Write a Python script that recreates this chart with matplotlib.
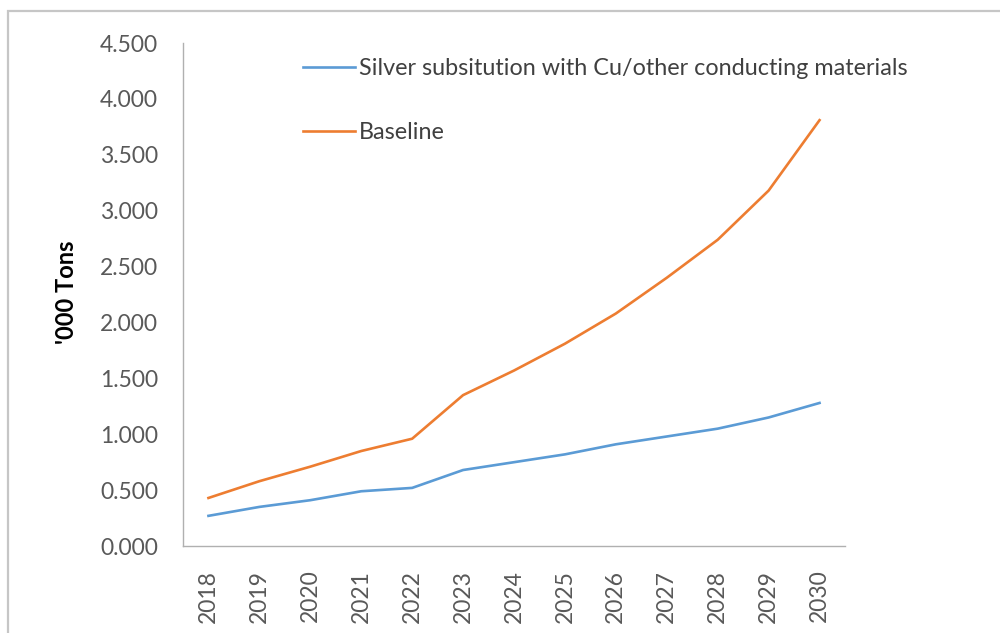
import numpy as np
import matplotlib.pyplot as plt
from matplotlib.patches import Rectangle

#data
years = ["2018", "2019", "2020", "2021", "2022", "2023", "2024",
         "2025", "2026", "2027", "2028", "2029", "2030"]
substitution = [0.27, 0.35, 0.41, 0.49, 0.52, 0.68, 0.75,
                0.82, 0.91, 0.98, 1.05, 1.15, 1.28]
baseline = [0.43, 0.58, 0.71, 0.85, 0.96, 1.35, 1.57,
            1.81, 2.08, 2.40, 2.74, 3.18, 3.81]
series_names = ["Silver subsitution with Cu/other conducting materials", "Baseline"]
yticks = np.arange(0, 4.51, 0.5)

plt.rcParams['font.family'] = ['Lato', 'DejaVu Sans']

fig = plt.figure(figsize=(10, 6.33), dpi=100)
ax = fig.add_axes([0.183, 0.1374, 0.662, 0.7946])

#outer frame (cut off on right / bottom like the screenshot)
fig.patches.append(Rectangle((0.008, -0.05), 1.2, 0.9826 + 0.05, transform=fig.transFigure,
                             fill=False, edgecolor="#c6c6c6", linewidth=1.6))

x = np.arange(len(years))
ax.plot(x, substitution, color="#5B9BD5", linewidth=1.9, label=series_names[0])
ax.plot(x, baseline, color="#ED7D31", linewidth=1.9, label=series_names[1])

ax.set_xlim(-0.5, len(years) - 0.5)
ax.set_ylim(0, 4.5)
ax.set_xticks(x)
ax.set_xticklabels(years, rotation=90)
ax.set_yticks(yticks)
ax.set_yticklabels(["%.3f" % v for v in yticks])
ax.tick_params(axis="both", length=0, labelsize=16.5, colors="#595959")
ax.tick_params(axis="y", pad=18)
ax.tick_params(axis="x", pad=17)

for side in ["top", "right"]:
    ax.spines[side].set_visible(False)
for side in ["left", "bottom"]:
    ax.spines[side].set_color("#b0b0b0")
    ax.spines[side].set_linewidth(1.0)

fig.text(0.066, 0.539, "'000 Tons", rotation=90, ha="center", va="center",
         fontsize=17, fontweight="bold", color="black")

leg = ax.legend(loc="upper left", bbox_to_anchor=(0.303, 0.908), bbox_transform=fig.transFigure,
                frameon=False, fontsize=16.8, handlelength=2.22, handletextpad=0.17,
                labelspacing=1.82, borderpad=0, borderaxespad=0)
for t in leg.get_texts():
    t.set_color("#404040")

fig.savefig("out.png", dpi=100)
